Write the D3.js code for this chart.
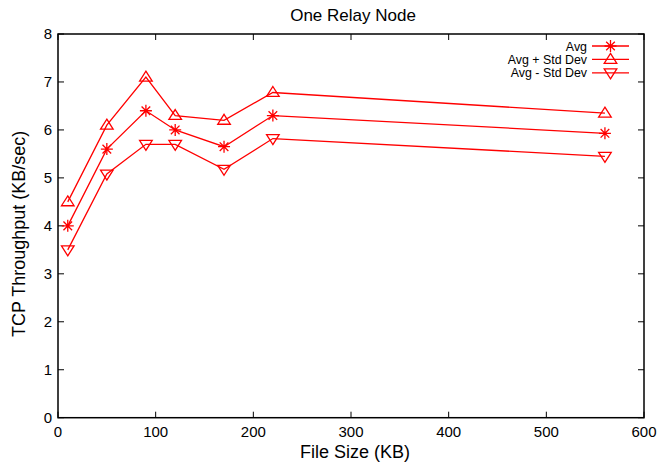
<!DOCTYPE html>
<html>
<head>
<meta charset="utf-8">
<script src="https://cdn.jsdelivr.net/npm/d3@7"></script>
<style>
  body { margin: 0; background: #fff; }
  text { font-family: "Liberation Sans", Arial, sans-serif; fill: #000; }
</style>
</head>
<body>
<svg id="chart" width="664" height="464"></svg>
<script>
// File size vs TCP throughput, one relay node
const fileSizes = [10, 50, 90, 120, 170, 220, 560];
const avg       = [4.0, 5.6, 6.4, 6.0, 5.65, 6.3, 5.93];
const avgPlus   = [4.5, 6.1, 7.1, 6.3, 6.2, 6.78, 6.35];
const avgMinus  = [3.5, 5.08, 5.7, 5.7, 5.18, 5.82, 5.45];
const xTicks = [0, 100, 200, 300, 400, 500, 600];
const yTicks = [0, 1, 2, 3, 4, 5, 6, 7, 8];

const series = [
  { name: 'Avg', values: avg, marker: 'star' },
  { name: 'Avg + Std Dev', values: avgPlus, marker: 'up' },
  { name: 'Avg - Std Dev', values: avgMinus, marker: 'down' }
];

const RED = '#ff0000';
const M = { left: 58, right: 644, top: 34, bottom: 417.7 };

const svg = d3.select('#chart');
const x = d3.scaleLinear().domain([0, 600]).range([M.left, M.right]);
const y = d3.scaleLinear().domain([0, 8]).range([M.bottom, M.top]);

// ticks (gnuplot style: inward, mirrored)
const TK = 6;
const axes = svg.append('g').attr('stroke', '#000').attr('stroke-width', 1);
xTicks.forEach(t => {
  axes.append('line').attr('x1', x(t)).attr('x2', x(t)).attr('y1', M.bottom).attr('y2', M.bottom - TK);
  axes.append('line').attr('x1', x(t)).attr('x2', x(t)).attr('y1', M.top).attr('y2', M.top + TK);
});
yTicks.forEach(t => {
  axes.append('line').attr('x1', M.left).attr('x2', M.left + TK).attr('y1', y(t)).attr('y2', y(t));
  axes.append('line').attr('x1', M.right).attr('x2', M.right - TK).attr('y1', y(t)).attr('y2', y(t));
});

svg.append('rect')
  .attr('x', M.left).attr('y', M.top)
  .attr('width', M.right - M.left).attr('height', M.bottom - M.top)
  .attr('fill', 'none').attr('stroke', '#000').attr('stroke-width', 1.5);

svg.append('g').selectAll('text').data(xTicks).join('text')
  .attr('x', d => x(d)).attr('y', M.bottom + 19)
  .attr('text-anchor', 'middle').attr('font-size', 15)
  .text(d => d);

svg.append('g').selectAll('text').data(yTicks).join('text')
  .attr('x', M.left - 6).attr('y', d => y(d) + 5)
  .attr('text-anchor', 'end').attr('font-size', 15)
  .text(d => d);

svg.append('text').attr('x', (M.left + M.right) / 2 + 2).attr('y', 21)
  .attr('text-anchor', 'middle').attr('font-size', 17).text('One Relay Node');

svg.append('text').attr('x', (M.left + M.right) / 2 + 4).attr('y', 458)
  .attr('text-anchor', 'middle').attr('font-size', 18).text('File Size (KB)');

svg.append('text')
  .attr('transform', `translate(25, ${(M.top + M.bottom) / 2 + 8}) rotate(-90)`)
  .attr('text-anchor', 'middle').attr('font-size', 18).text('TCP Throughput (KB/sec)');

// markers
function drawMarker(g, kind, cx, cy) {
  if (kind === 'star') {
    const r = 6;
    const d = r * 0.72;
    g.append('path')
      .attr('d', `M${cx - r},${cy}H${cx + r}M${cx},${cy - r}V${cy + r}` +
                 `M${cx - d},${cy - d}L${cx + d},${cy + d}M${cx - d},${cy + d}L${cx + d},${cy - d}`)
      .attr('stroke', RED).attr('stroke-width', 1.3).attr('fill', 'none');
  } else {
    const s = 6;
    const pts = kind === 'up'
      ? [[cx, cy - s], [cx + s * 1.05, cy + s * 0.65], [cx - s * 1.05, cy + s * 0.65]]
      : [[cx, cy + s], [cx + s * 1.05, cy - s * 0.65], [cx - s * 1.05, cy - s * 0.65]];
    g.append('path')
      .attr('d', 'M' + pts.map(p => p.join(',')).join('L') + 'Z')
      .attr('stroke', RED).attr('stroke-width', 1.3).attr('fill', 'none');
  }
}

const line = d3.line().x(d => x(d[0])).y(d => y(d[1]));
const plot = svg.append('g');
series.forEach(s => {
  const pts = fileSizes.map((f, i) => [f, s.values[i]]);
  plot.append('path').attr('d', line(pts))
    .attr('fill', 'none').attr('stroke', RED).attr('stroke-width', 1.3);
  pts.forEach(p => drawMarker(plot, s.marker, x(p[0]), y(p[1])));
});

// legend
const leg = svg.append('g');
series.forEach((s, i) => {
  const ly = 46 + i * 13.4;
  leg.append('text').attr('x', 587).attr('y', ly + 4.5)
    .attr('text-anchor', 'end').attr('font-size', 12.4).text(s.name);
  leg.append('line').attr('x1', 592).attr('x2', 629).attr('y1', ly).attr('y2', ly)
    .attr('stroke', RED).attr('stroke-width', 1.3);
  drawMarker(leg, s.marker, 610.5, ly);
});
</script>
</body>
</html>
